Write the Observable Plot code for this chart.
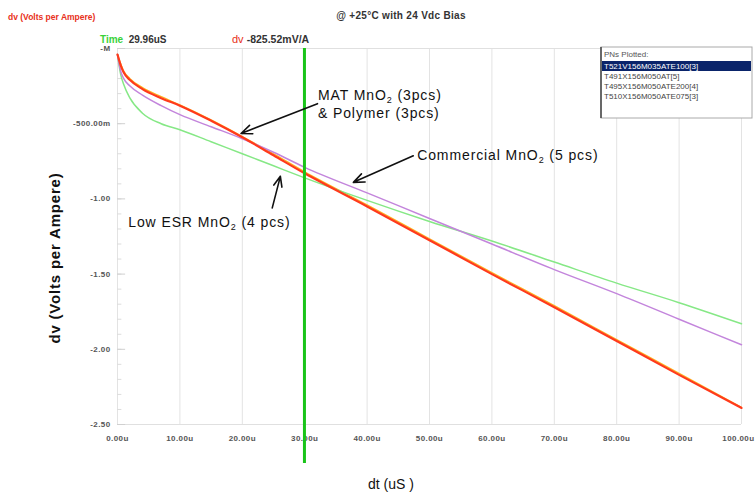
<!DOCTYPE html>
<html><head><meta charset="utf-8">
<script src="https://cdn.jsdelivr.net/npm/d3@7"></script>
<script src="https://cdn.jsdelivr.net/npm/@observablehq/plot@0.6"></script>
<style>body{margin:0;background:#fff} svg{display:block}</style>
</head><body><div id="chart"></div>
<script>
// ---- data ----
const times      = [0, 0.5, 1, 2, 4, 7, 10, 15, 20, 25, 30, 40, 50, 60, 70, 80, 90, 100];
const matMnO2    = [-0.04,-0.11,-0.16,-0.21,-0.27,-0.33,-0.38,-0.48,-0.59,-0.71,-0.83,-1.05,-1.275,-1.50,-1.72,-1.945,-2.17,-2.39];
const polymer    = [-0.04,-0.10,-0.15,-0.20,-0.26,-0.32,-0.375,-0.475,-0.585,-0.70,-0.82,-1.04,-1.265,-1.49,-1.71,-1.935,-2.16,-2.385];
const commercial = [-0.04,-0.15,-0.20,-0.25,-0.31,-0.38,-0.44,-0.52,-0.60,-0.69,-0.79,-0.96,-1.13,-1.30,-1.47,-1.63,-1.80,-1.97];
const lowESR     = [-0.04,-0.17,-0.24,-0.33,-0.43,-0.50,-0.54,-0.62,-0.70,-0.78,-0.86,-1.01,-1.15,-1.28,-1.42,-1.56,-1.69,-1.83];
const cursorTime = 29.96;
const xTickValues = [0,10,20,30,40,50,60,70,80,90,100];
const xTickLabels = ["0.00u","10.00u","20.00u","30.00u","40.00u","50.00u","60.00u","70.00u","80.00u","90.00u","100.00u"];
const yTickValues = [0,-0.5,-1,-1.5,-2,-2.5];
const yTickLabels = ["-M","-500.00m","-1.00","-1.50","-2.00","-2.50"];
const yMinorTicks = d3.range(-2.4, 0, 0.1).map(v => Math.round(v*100)/100);
const pnList = ["T521V156M035ATE100[3]","T491X156M050AT[5]","T495X156M050ATE200[4]","T510X156M050ATE075[3]"];

const series = [
  {name:"polymer", vals: polymer, color:"#ffb21e", w:1.3},
  {name:"lowESR", vals: lowESR, color:"#86e886", w:1.5},
  {name:"commercial", vals: commercial, color:"#c385dc", w:1.5},
  {name:"matMnO2", vals: matMnO2, color:"#ff3a1c", w:2.2}
];
const lineData = series.flatMap(s => times.map((t,i)=>({t, v:s.vals[i], s:s.name})));

// annotation placements (data coordinates)
const arrows = [
  {x1:32.05, y1:-0.367, x2:19.8, y2:-0.565},
  {x1:47.4, y1:-0.713, x2:37.8, y2:-0.89},
  {x1:24.8, y1:-1.06, x2:26.1, y2:-0.85}
];

const font = "'Liberation Sans', Arial, sans-serif";
const lastIdx = xTickValues.length - 1;
const plot = Plot.plot({
  width: 756, height: 495,
  marginLeft: 117, marginRight: 15, marginTop: 48, marginBottom: 71,
  x: {domain:[0,100], axis:null},
  y: {domain:[-2.5,0], axis:null},
  style: {fontFamily: font, background:"#fff", overflow:"visible"},
  marks: [
    Plot.ruleX(xTickValues, {stroke:"#e3e3e3", strokeWidth:1}),
    Plot.ruleY([0], {stroke:"#e0e0e0"}),
    Plot.ruleY([-2.5], {stroke:"#e0e0e0"}),
    Plot.ruleY(yMinorTicks, {x1:0, x2:0.7, stroke:"#dcdcdc"}),
    Plot.ruleY(yTickValues, {x1:0, x2:1.3, stroke:"#d0d0d0"}),
    Plot.text(yTickValues, {x:0, y:d=>d, text:(d,i)=>yTickLabels[i], dx:-7, textAnchor:"end", fontSize:8, fontWeight:"bold", fill:"#555"}),
    Plot.text(xTickValues.slice(0, lastIdx), {x:d=>d, y:-2.5, text:(d,i)=>xTickLabels[i], dy:14, fontSize:8, fontWeight:"bold", fill:"#555"}),
    Plot.text(xTickValues.slice(lastIdx), {x:d=>d, y:-2.5, text:()=>xTickLabels[lastIdx], dy:14, dx:13, textAnchor:"end", fontSize:8, fontWeight:"bold", fill:"#555"}),
    Plot.line(lineData, {x:"t", y:"v", z:"s", stroke:d=>series.find(s=>s.name===d.s).color,
      strokeWidth:d=>series.find(s=>s.name===d.s).w, curve:"monotone-x"}),
    Plot.ruleX([cursorTime], {y1:0, y2:-2.76, stroke:"#19c419", strokeWidth:3}),
    Plot.arrow(arrows, {x1:"x1", y1:"y1", x2:"x2", y2:"y2", stroke:"#111", strokeWidth:1.6, headAngle:45, headLength:11})
  ]
});
document.getElementById("chart").appendChild(plot);
d3.select(plot).selectAll("text").filter(function(){ return this.closest("g[aria-label='text']"); })
  .attr("letter-spacing", 0.4);

const svg = d3.select(plot);
const sx = plot.scale("x"), sy = plot.scale("y");
const X = v => sx.apply(v), Y = v => sy.apply(v);
const layer = svg.append("g").attr("text-anchor","start").attr("font-family",font);

// header texts
layer.append("text").attr("x",8).attr("y",20).attr("font-size",8.5).attr("font-weight","bold")
  .attr("fill","#e83020").text("dv (Volts per Ampere)");
layer.append("text").attr("x",401).attr("y",19).attr("text-anchor","middle").attr("font-size",10).attr("font-weight","bold")
  .attr("letter-spacing",0.3).attr("fill","#333").text("@ +25°C with 24 Vdc Bias");
const t1 = layer.append("text").attr("x",100).attr("y",43).attr("font-size",10).attr("font-weight","bold");
t1.append("tspan").attr("fill","#3ad23a").text("Time ");
t1.append("tspan").attr("fill","#333").text(" 29.96uS");
const t2 = layer.append("text").attr("x",232).attr("y",43).attr("font-size",10.5).attr("font-weight","bold");
t2.append("tspan").attr("fill","#e83020").attr("font-size",11).attr("font-weight","normal").text("dv ");
t2.append("tspan").attr("fill","#333").text("-825.52mV/A");

// annotations
function ann(x, y, parts){
  const t = layer.append("text").attr("x",X(x)).attr("y",Y(y)).attr("font-size",14)
    .attr("letter-spacing",0.9).attr("fill","#111");
  parts.forEach(p => {
    if (p.sub) t.append("tspan").attr("font-size",9).attr("dy",3).text(p.sub);
    else t.append("tspan").attr("dy", p.after ? -3 : 0).text(p.t);
  });
}
ann(32.2, -0.347, [{t:"MAT MnO"},{sub:"2"},{t:" (3pcs)", after:true}]);
ann(32.2, -0.467, [{t:"& Polymer (3pcs)"}]);
ann(48.1, -0.747, [{t:"Commercial MnO"},{sub:"2"},{t:" (5 pcs)", after:true}]);
ann(1.8, -1.187, [{t:"Low ESR MnO"},{sub:"2"},{t:" (4 pcs)", after:true}]);

// axis titles
layer.append("text").attr("transform","translate(60,258) rotate(-90)").attr("text-anchor","middle")
  .attr("font-size",15).attr("letter-spacing",0.8).attr("font-weight","bold").attr("fill","#111").text("dv (Volts per Ampere)");
layer.append("text").attr("x",391).attr("y",489).attr("text-anchor","middle")
  .attr("font-size",14).attr("fill","#111").text("dt (uS )");

// legend box
const lg = layer.append("g").attr("font-size",8);
lg.append("rect").attr("x",601).attr("y",47).attr("width",151).attr("height",71).attr("fill","#fff").attr("stroke","#aaa");
lg.append("line").attr("x1",601).attr("x2",601).attr("y1",47).attr("y2",118).attr("stroke","#444").attr("stroke-width",1.5);
lg.append("text").attr("x",604).attr("y",57).attr("fill","#555").text("PNs Plotted:");
pnList.forEach((p,i)=>{
  const yy = 69 + i*10;
  if (i===0) lg.append("rect").attr("x",602).attr("y",yy-8).attr("width",149).attr("height",10).attr("fill","#0a246a");
  lg.append("text").attr("x",604).attr("y",yy).attr("fill", i===0 ? "#fff" : "#444").text(p);
});
</script></body></html>
